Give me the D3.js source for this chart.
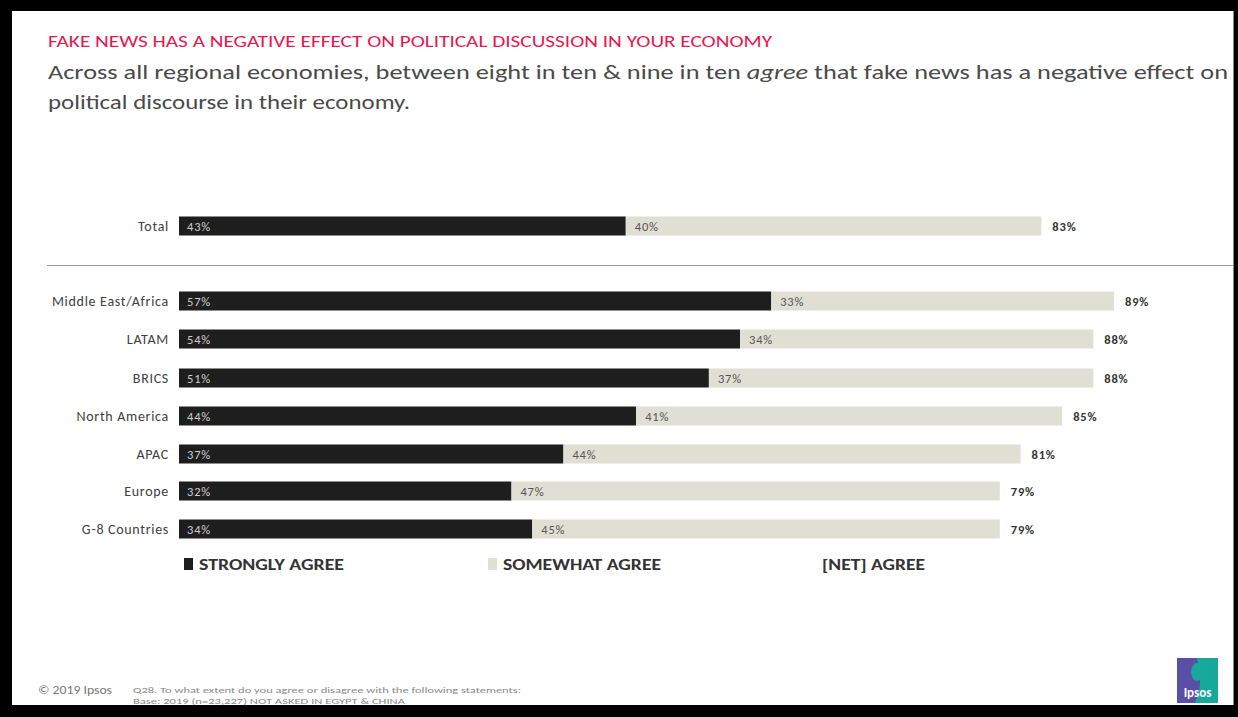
<!DOCTYPE html>
<html><head><meta charset="utf-8">
<script src="https://cdn.jsdelivr.net/npm/d3@7"></script>
<style>
html,body{margin:0;padding:0;background:#fff;}
svg{display:block;}
</style></head>
<body>
<script>
const categories = ["Total","Middle East/Africa","LATAM","BRICS","North America","APAC","Europe","G-8 Countries"];
const stronglyAgree = [43,57,54,51,44,37,32,34];
const somewhatAgree = [40,33,34,37,41,44,47,45];
const netAgree = [83,89,88,88,85,81,79,79];
const legendLabels = ["STRONGLY AGREE","SOMEWHAT AGREE","[NET] AGREE"];

const W=1238,H=717;
const font="Carlito, 'Open Sans', Lato, 'Liberation Sans', sans-serif";
const svg=d3.select("body").append("svg").attr("width",W).attr("height",H);

// frame
svg.append("rect").attr("x",0).attr("y",0).attr("width",W).attr("height",H).attr("fill","#000");
svg.append("rect").attr("x",12).attr("y",11).attr("width",1222).attr("height",694).attr("fill","#fff");
svg.append("line").attr("x1",1233.5).attr("x2",1233.5).attr("y1",11).attr("y2",705).attr("stroke","#888").attr("stroke-width",1);

// titles
svg.append("text").attr("x",48).attr("y",47).attr("font-family",font).attr("font-size",15.5)
  .attr("fill","#e8174f").text("FAKE NEWS HAS A NEGATIVE EFFECT ON POLITICAL DISCUSSION IN YOUR ECONOMY")
  .attr("textLength",724).attr("lengthAdjust","spacingAndGlyphs");
const sub1=svg.append("text").attr("x",48).attr("y",79).attr("font-family",font).attr("font-size",20.5).attr("fill","#4a4a4a")
  .attr("textLength",1180).attr("lengthAdjust","spacingAndGlyphs");
sub1.append("tspan").text("Across all regional economies, between eight in ten & nine in ten ");
sub1.append("tspan").attr("font-style","italic").text("agree");
sub1.append("tspan").text(" that fake news has a negative effect on");
svg.append("text").attr("x",48).attr("y",109).attr("font-family",font).attr("font-size",20.5).attr("fill","#4a4a4a")
  .text("political discourse in their economy.").attr("textLength",362).attr("lengthAdjust","spacingAndGlyphs");

// scales
const x=d3.scaleLinear().domain([0,100]).range([179,1218]);
const rowY=[226,301,339,378,416,454,491,529];
const y=d3.scaleOrdinal().domain(categories).range(rowY);
const bh=19;

// separator
svg.append("line").attr("x1",47).attr("x2",1233).attr("y1",265.5).attr("y2",265.5).attr("stroke","#999").attr("stroke-width",1.2);

const g=svg.append("g");
categories.forEach((c,i)=>{
  const cy=y(c);
  g.append("rect").attr("x",x(0)).attr("y",cy-bh/2).attr("width",x(stronglyAgree[i])-x(0)).attr("height",bh).attr("fill","#1e1e1e");
  g.append("rect").attr("x",x(stronglyAgree[i])).attr("y",cy-bh/2).attr("width",x(stronglyAgree[i]+somewhatAgree[i])-x(stronglyAgree[i])).attr("height",bh).attr("fill","#dfdfd3");
  g.append("text").attr("x",x(0)-10).attr("y",cy+4.5).attr("text-anchor","end").attr("font-family",font).attr("font-size",14).attr("letter-spacing",0.7).attr("fill","#404040").text(c);
  g.append("text").attr("x",x(0)+8).attr("y",cy+4.5).attr("font-family",font).attr("font-size",12.5).attr("letter-spacing",0.8).attr("fill","#cfcfcf").text(stronglyAgree[i]+"%");
  g.append("text").attr("x",x(stronglyAgree[i])+9).attr("y",cy+4.5).attr("font-family",font).attr("font-size",12.5).attr("letter-spacing",0.8).attr("fill","#555").text(somewhatAgree[i]+"%");
  g.append("text").attr("x",x(stronglyAgree[i]+somewhatAgree[i])+11).attr("y",cy+4.5).attr("font-family",font).attr("font-size",12.5).attr("letter-spacing",0.8).attr("font-weight","bold").attr("fill","#333").text(netAgree[i]+"%");
});

// legend
const legX=[184,488,822], legC=["#1e1e1e","#dfdfd3",null], legLen=[145,158,103];
legendLabels.forEach((l,i)=>{
  if(legC[i]) svg.append("rect").attr("x",legX[i]).attr("y",558).attr("width",9).attr("height",12).attr("fill",legC[i]);
  svg.append("text").attr("x",legC[i]?legX[i]+15:legX[i]).attr("y",570).attr("font-family",font).attr("font-size",16.5).attr("font-weight","bold").attr("fill","#333")
    .attr("textLength",legLen[i]).attr("lengthAdjust","spacingAndGlyphs").text(l);
});

// footer
svg.append("text").attr("x",38).attr("y",694).attr("font-family",font).attr("font-size",12).attr("fill","#777").attr("textLength",74).attr("lengthAdjust","spacingAndGlyphs").text("© 2019 Ipsos");
svg.append("text").attr("x",133).attr("y",693).attr("font-family",font).attr("font-size",9).attr("fill","#8a8a8a").attr("textLength",388).attr("lengthAdjust","spacingAndGlyphs").text("Q28. To what extent do you agree or disagree with the following statements:");
const base=svg.append("text").attr("x",133).attr("y",704).attr("font-family",font).attr("font-size",9).attr("fill","#8a8a8a").attr("textLength",272).attr("lengthAdjust","spacingAndGlyphs");
base.append("tspan").text("Base:  2019 (n=23,227) ");
base.append("tspan").attr("text-decoration","underline").text("NOT ASKED IN EGYPT & CHINA");
svg.append("rect").attr("x",0).attr("y",705).attr("width",W).attr("height",12).attr("fill","#000");

// logo
const lg=svg.append("g").attr("transform","translate(1177,658)");
lg.append("rect").attr("width",41).attr("height",45).attr("fill","#5a4fa6");
lg.append("path").attr("d","M20,0 H41 V45 H18 C22,35 26,25 20,0 Z").attr("fill","#17a89c");
lg.append("ellipse").attr("cx",20).attr("cy",14).attr("rx",6).attr("ry",9).attr("fill","#1aa89c");
lg.append("text").attr("x",20.5).attr("y",39).attr("text-anchor","middle").attr("font-family",font).attr("font-size",13).attr("font-weight","bold").attr("fill","#fff").text("Ipsos");
</script>
</body></html>
